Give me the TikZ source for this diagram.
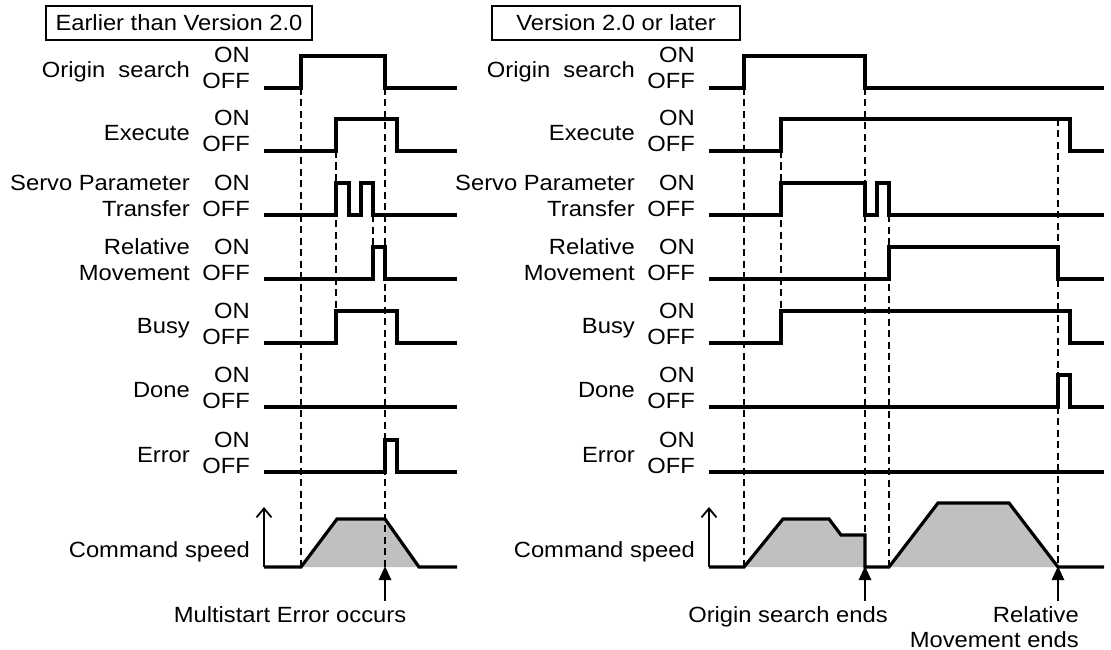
\documentclass[tikz,border=0pt]{standalone}
\usepackage{fontspec}
\setmainfont{Liberation Sans}[FakeStretch=1.08]
\usetikzlibrary{arrows.meta}
\definecolor{speedfill}{RGB}{192,192,192}
\begin{document}
\begin{tikzpicture}[x=1pt,y=-1pt,
  font=\fontsize{22}{26}\selectfont,
  sig/.style={line width=3.2pt, line join=miter},
  guide/.style={line width=1.6pt, dash pattern=on 7pt off 4.5pt},
  lab/.style={anchor=base east, inner sep=0pt},
  captext/.style={anchor=base, inner sep=0pt},
  vbox/.style={draw, line width=1.1pt, minimum height=34pt, inner sep=0pt},
  axis/.style={line width=2.6pt, -{Straight Barb[length=9pt,width=15pt,line width=1.8pt]}},
  mark arrow/.style={line width=2.6pt, -{Triangle[length=14pt,width=12pt]}},
  area/.style={fill=speedfill, draw=none}]
\useasboundingbox (0,0) rectangle (1111,650);

% ---------- headings ----------
\node[vbox, minimum width=266pt] (lbox) at (179,23) {Earlier than Version 2.0};
\node[vbox, minimum width=248pt] (rbox) at (616,23) {Version 2.0 or later};

% ---------- left labels ----------
\node[lab] (lOS)  at (190,78)  {Origin\ \ search};
\node[lab] (lOSa) at (250,63)  {ON};
\node[lab] (lOSb) at (250,89)  {OFF};
\node[lab] (lEX)  at (190,141) {Execute};
\node[lab] (lEXa) at (250,126) {ON};
\node[lab] (lEXb) at (250,152) {OFF};
\node[lab] (lSP)  at (190,190) {Servo Parameter};
\node[lab] (lSPt) at (190,216) {Transfer};
\node[lab] (lSPa) at (250,190) {ON};
\node[lab] (lSPb) at (250,216) {OFF};
\node[lab] (lRM)  at (190,254) {Relative};
\node[lab] (lRMt) at (190,280) {Movement};
\node[lab] (lRMa) at (250,254) {ON};
\node[lab] (lRMb) at (250,280) {OFF};
\node[lab] (lBU)  at (190,333) {Busy};
\node[lab] (lBUa) at (250,318) {ON};
\node[lab] (lBUb) at (250,344) {OFF};
\node[lab] (lDO)  at (190,397) {Done};
\node[lab] (lDOa) at (250,382) {ON};
\node[lab] (lDOb) at (250,408) {OFF};
\node[lab] (lER)  at (190,462) {Error};
\node[lab] (lERa) at (250,447) {ON};
\node[lab] (lERb) at (250,473) {OFF};
\node[lab] (lCS)  at (250,557) {Command speed};

% ---------- right labels ----------
\node[lab] (rOS)  at (635,78)  {Origin\ \ search};
\node[lab] (rOSa) at (695,63)  {ON};
\node[lab] (rOSb) at (695,89)  {OFF};
\node[lab] (rEX)  at (635,141) {Execute};
\node[lab] (rEXa) at (695,126) {ON};
\node[lab] (rEXb) at (695,152) {OFF};
\node[lab] (rSP)  at (635,190) {Servo Parameter};
\node[lab] (rSPt) at (635,216) {Transfer};
\node[lab] (rSPa) at (695,190) {ON};
\node[lab] (rSPb) at (695,216) {OFF};
\node[lab] (rRM)  at (635,254) {Relative};
\node[lab] (rRMt) at (635,280) {Movement};
\node[lab] (rRMa) at (695,254) {ON};
\node[lab] (rRMb) at (695,280) {OFF};
\node[lab] (rBU)  at (635,333) {Busy};
\node[lab] (rBUa) at (695,318) {ON};
\node[lab] (rBUb) at (695,344) {OFF};
\node[lab] (rDO)  at (635,397) {Done};
\node[lab] (rDOa) at (695,382) {ON};
\node[lab] (rDOb) at (695,408) {OFF};
\node[lab] (rER)  at (635,462) {Error};
\node[lab] (rERa) at (695,447) {ON};
\node[lab] (rERb) at (695,473) {OFF};
\node[lab] (rCS)  at (695,557) {Command speed};

% ---------- left speed area ----------
\fill[area] (301,567) -- (337,519) -- (385,519) -- (419,567) -- cycle;

% ---------- left guides ----------
\draw[guide] (301,88) -- (301,567);
\draw[guide] (385,88) -- (385,567);
\draw[guide] (336,151) -- (336,311);
\draw[guide] (373,215) -- (373,247);

% ---------- left signals ----------
\draw[sig] (264,88) -- (301,88) -- (301,56) -- (385,56) -- (385,88) -- (457,88);
\draw[sig] (264,151) -- (336,151) -- (336,119) -- (397,119) -- (397,151) -- (457,151);
\draw[sig] (264,215) -- (336,215) -- (336,183) -- (349,183) -- (349,215) -- (361,215) -- (361,183) -- (373,183) -- (373,215) -- (457,215);
\draw[sig] (264,279) -- (373,279) -- (373,247) -- (385,247) -- (385,279) -- (457,279);
\draw[sig] (264,343) -- (336,343) -- (336,311) -- (397,311) -- (397,343) -- (457,343);
\draw[sig] (264,407) -- (457,407);
\draw[sig] (264,472) -- (385,472) -- (385,440) -- (397,440) -- (397,472) -- (457,472);
\draw[sig] (264,567) -- (301,567) -- (337,519) -- (385,519) -- (419,567) -- (457,567);
\coordinate (lax0) at (264,567);
\coordinate (lax1) at (264,507);
\draw[axis] (lax0) -- (lax1);

% ---------- left marker ----------
\coordinate (lm0) at (385,601);
\coordinate (lm1) at (385,566);
\draw[mark arrow] (lm0) -- (lm1);
\node[captext] (lmt) at (290,622) {Multistart Error occurs};

% ---------- right speed area ----------
\fill[area] (744,567) -- (783,519) -- (829,519) -- (841,535) -- (865,535) -- (865,567) -- cycle;
\fill[area] (889,567) -- (938,503) -- (1009,503) -- (1058,567) -- cycle;

% ---------- right guides ----------
\draw[guide] (744,88) -- (744,567);
\draw[guide] (865,88) -- (865,567);
\draw[guide] (781,151) -- (781,311);
\draw[guide] (889,215) -- (889,567);
\draw[guide] (1058,119) -- (1058,567);

% ---------- right signals ----------
\draw[sig] (709,88) -- (744,88) -- (744,56) -- (865,56) -- (865,88) -- (1104,88);
\draw[sig] (709,151) -- (781,151) -- (781,119) -- (1070,119) -- (1070,151) -- (1104,151);
\draw[sig] (709,215) -- (781,215) -- (781,183) -- (865,183) -- (865,215) -- (877,215) -- (877,183) -- (889,183) -- (889,215) -- (1104,215);
\draw[sig] (709,279) -- (889,279) -- (889,247) -- (1058,247) -- (1058,279) -- (1104,279);
\draw[sig] (709,343) -- (781,343) -- (781,311) -- (1070,311) -- (1070,343) -- (1104,343);
\draw[sig] (709,407) -- (1058,407) -- (1058,375) -- (1070,375) -- (1070,407) -- (1104,407);
\draw[sig] (709,472) -- (1104,472);
\draw[sig] (709,567) -- (744,567) -- (783,519) -- (829,519) -- (841,535) -- (865,535) -- (865,567) -- (889,567) -- (938,503) -- (1009,503) -- (1058,567) -- (1104,567);
\coordinate (rax0) at (709,567);
\coordinate (rax1) at (709,507);
\draw[axis] (rax0) -- (rax1);

% ---------- right markers ----------
\coordinate (rm0) at (865,601);
\coordinate (rm1) at (865,566);
\draw[mark arrow] (rm0) -- (rm1);
\coordinate (rn0) at (1058,601);
\coordinate (rn1) at (1058,566);
\draw[mark arrow] (rn0) -- (rn1);
\node[captext] (rmt) at (788,622) {Origin search ends};
\node[lab] (rnt1) at (1079,622) {Relative};
\node[lab] (rnt2) at (1079,647) {Movement ends};
\end{tikzpicture}
\end{document}
